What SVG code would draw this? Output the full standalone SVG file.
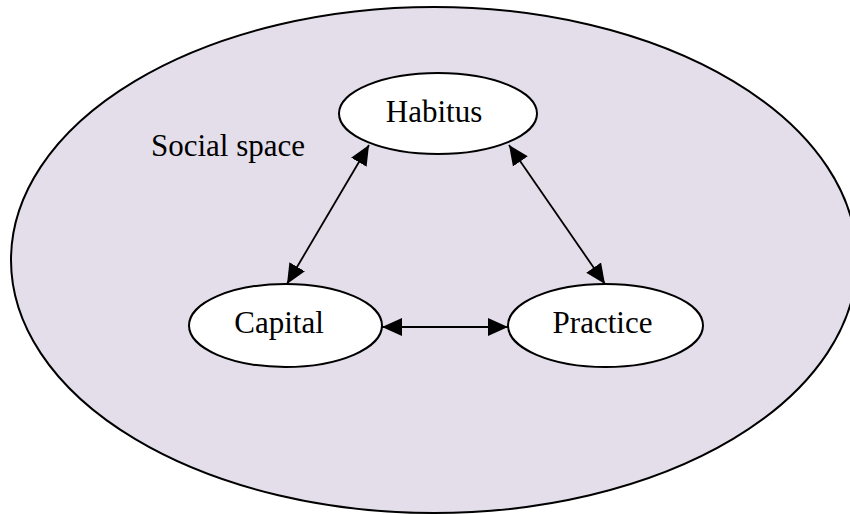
<svg xmlns="http://www.w3.org/2000/svg" width="850" height="514" viewBox="0 0 850 514">
<style>
.node{fill:#ffffff;stroke:#000000;stroke-width:2}
.lbl{font-family:"Liberation Serif","Times New Roman",serif;font-size:31px;fill:#000000;text-anchor:middle}
.edge{stroke:#000000;stroke-width:1.8;fill:none;marker-start:url(#ah);marker-end:url(#ah)}
</style>
<defs>
<marker id="ah" markerUnits="userSpaceOnUse" markerWidth="22" markerHeight="20" viewBox="0 0 22 20" refX="20" refY="10" orient="auto-start-reverse">
<path d="M0,1 L20,10 L0,19 Z" fill="#000000"/>
</marker>
</defs>
<g id="social-space">
<ellipse cx="434" cy="260" rx="423" ry="253" fill="#e3deea" stroke="#000000" stroke-width="2"/>
<text class="lbl" x="228" y="156">Social space</text>
</g>
<g id="connectors">
<line class="edge" x1="369" y1="145" x2="287" y2="284"/>
<line class="edge" x1="509" y1="145" x2="605" y2="284"/>
<line class="edge" x1="382" y1="327" x2="508" y2="327"/>
</g>
<g id="habitus">
<ellipse class="node" cx="438" cy="113.5" rx="99" ry="40.5"/>
<text class="lbl" x="434" y="122">Habitus</text>
</g>
<g id="capital">
<ellipse class="node" cx="285.5" cy="325.5" rx="96.5" ry="41.5"/>
<text class="lbl" x="279" y="333">Capital</text>
</g>
<g id="practice">
<ellipse class="node" cx="605.5" cy="325.5" rx="97.5" ry="41.5"/>
<text class="lbl" x="602.5" y="333">Practice</text>
</g>
</svg>
